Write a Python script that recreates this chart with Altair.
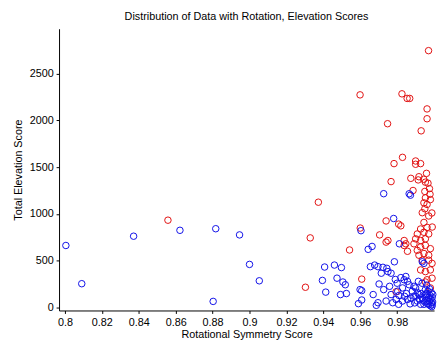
import altair as alt
import pandas as pd

# Red series (high elevation)
red_x = [0.8558, 0.9303, 0.9329, 0.9373, 0.9542, 0.9599, 0.9600, 0.9608, 0.9705, 0.9740,
         0.9740, 0.9748, 0.9750, 0.9767, 0.9783, 0.9808, 0.9820, 0.9826, 0.9829, 0.9838,
         0.9838, 0.9847, 0.9854, 0.9856, 0.9868, 0.9874, 0.9886, 0.9891, 0.9900, 0.9900,
         0.9900, 0.9909, 0.9909, 0.9914, 0.9918, 0.9918, 0.9927, 0.9927, 0.9927, 0.9927,
         0.9927, 0.9930, 0.9936, 0.9936, 0.9944, 0.9945, 0.9945, 0.9945, 0.9945, 0.9950,
         0.9950, 0.9953, 0.9953, 0.9953, 0.9953, 0.9953, 0.9959, 0.9962, 0.9962, 0.9962,
         0.9962, 0.9962, 0.9967, 0.9970, 0.9971, 0.9971, 0.9971, 0.9971, 0.9980, 0.9980,
         0.9980, 0.9989, 0.9989, 0.9975, 0.9978, 0.9990, 0.9988, 0.9980, 0.9953, 0.9794]
red_y = [933, 217, 744, 1125, 615, 2271, 849, 304, 776, 925,
         699, 1963, 716, 1345, 1537, 891, 873, 2282, 1604, 716,
         663, 681, 2233, 601, 2233, 1380, 1250, 681, 1565, 1530,
         734, 786, 611, 1363, 1397, 559, 1537, 839, 716, 647,
         402, 1887, 1013, 506, 1370, 909, 804, 577, 1118, 1240,
         1055, 1339, 1171, 734, 664, 384, 1433, 2121, 2016, 1101,
         856, 297, 1328, 2743, 978, 786, 559, 506, 1153, 629,
         402, 472, 314, 1270, 1210, 860, 1010, 210, 273, 168]

# Blue series (low elevation)
blue_x = [0.8005, 0.8091, 0.8372, 0.8623, 0.8803, 0.8817, 0.8946, 0.9000, 0.9053, 0.9395,
          0.9407, 0.9413, 0.9460, 0.9474, 0.9493, 0.9498, 0.9506, 0.9519, 0.9525, 0.9590,
          0.9599, 0.9604, 0.9608, 0.9608, 0.9643, 0.9655, 0.9664, 0.9670, 0.9678, 0.9687,
          0.9696, 0.9696, 0.9702, 0.9714, 0.9723, 0.9727, 0.9727, 0.9740, 0.9744, 0.9750,
          0.9759, 0.9767, 0.9767, 0.9776, 0.9781, 0.9785, 0.9794, 0.9803, 0.9808, 0.9812,
          0.9829, 0.9829, 0.9838, 0.9847, 0.9856, 0.9856, 0.9865, 0.9865, 0.9872, 0.9882,
          0.9891, 0.9891, 0.9900, 0.9909, 0.9918, 0.9927, 0.9936, 0.9936, 0.9945, 0.9945,
          0.9953, 0.9953, 0.9962, 0.9967, 0.9971, 0.9971, 0.9940, 0.9950, 0.9958, 0.9965,
          0.9975, 0.9980, 0.9983, 0.9986, 0.9978, 0.9988, 0.9990, 0.9992, 0.9960, 0.9985,
          0.9930, 0.9920, 0.9910, 0.9900, 0.9895, 0.9875, 0.9870, 0.9850, 0.9840, 0.9990,
          0.9993, 0.9975, 0.9960, 0.9935, 0.9915, 0.9820, 0.9800, 0.9790, 0.9810]
blue_y = [663, 255, 762, 825, 66, 842, 776, 461, 286, 290,
          433, 165, 454, 314, 139, 427, 273, 244, 150, 42,
          192, 821, 181, 81, 622, 437, 653, 139, 454, 24,
          437, 52, 252, 367, 430, 1216, 192, 70, 419, 384,
          227, 367, 139, 52, 951, 489, 87, 175, 35, 681,
          210, 70, 297, 332, 280, 87, 244, 1215, 1200, 175,
          227, 122, 210, 70, 139, 35, 489, 105, 472, 35,
          192, 139, 70, 175, 105, 35, 80, 60, 110, 40,
          70, 20, 90, 50, 130, 10, 110, 60, 150, 160,
          150, 90, 160, 120, 50, 100, 40, 150, 120, 30,
          140, 200, 240, 260, 280, 320, 260, 300, 130]

x_ticks = [0.8, 0.82, 0.84, 0.86, 0.88, 0.9, 0.92, 0.94, 0.96, 0.98]
y_ticks = [0, 500, 1000, 1500, 2000, 2500]

df = pd.DataFrame({
    "x": red_x + blue_x,
    "y": red_y + blue_y,
    "group": ["red"] * len(red_x) + ["blue"] * len(blue_x),
})

FONT = "Liberation Sans"

x_enc = alt.X("x:Q", scale=alt.Scale(domain=[0.7968, 1.0], nice=False, zero=False),
              axis=alt.Axis(values=x_ticks, format="~g", title="Rotational Symmetry Score",
                            titlePadding=2))
y_enc = alt.Y("y:Q", scale=alt.Scale(domain=[-31, 2977], nice=False, zero=False),
              axis=alt.Axis(values=y_ticks, format="d", title="Total Elevation Score",
                            titlePadding=6))

def layer(g, color):
    return alt.Chart(df).transform_filter(alt.datum.group == g).mark_point(
        shape="circle", filled=False, size=44, strokeWidth=1, color=color, opacity=1
    ).encode(x=x_enc, y=y_enc)

chart = alt.layer(layer("red", "#e01010"), layer("blue", "#1010e8")).properties(
    width=382, height=287,
    title=alt.TitleParams("Distribution of Data with Rotation, Elevation Scores",
                          font=FONT, fontSize=11, fontWeight="normal", color="black",
                          anchor="middle", offset=7),
    autosize="none",
    padding={"left": 52, "top": 18, "right": 4, "bottom": 30},
).configure_axis(
    grid=False, domainColor="black", tickColor="black", tickSize=3,
    labelFont=FONT, labelFontSize=11, labelColor="black", labelPadding=3,
    titleFont=FONT, titleFontSize=11, titleFontWeight="normal", titleColor="black",
).configure_view(stroke=None)

chart.save("out.html", embed_options={"renderer": "svg", "actions": False})
